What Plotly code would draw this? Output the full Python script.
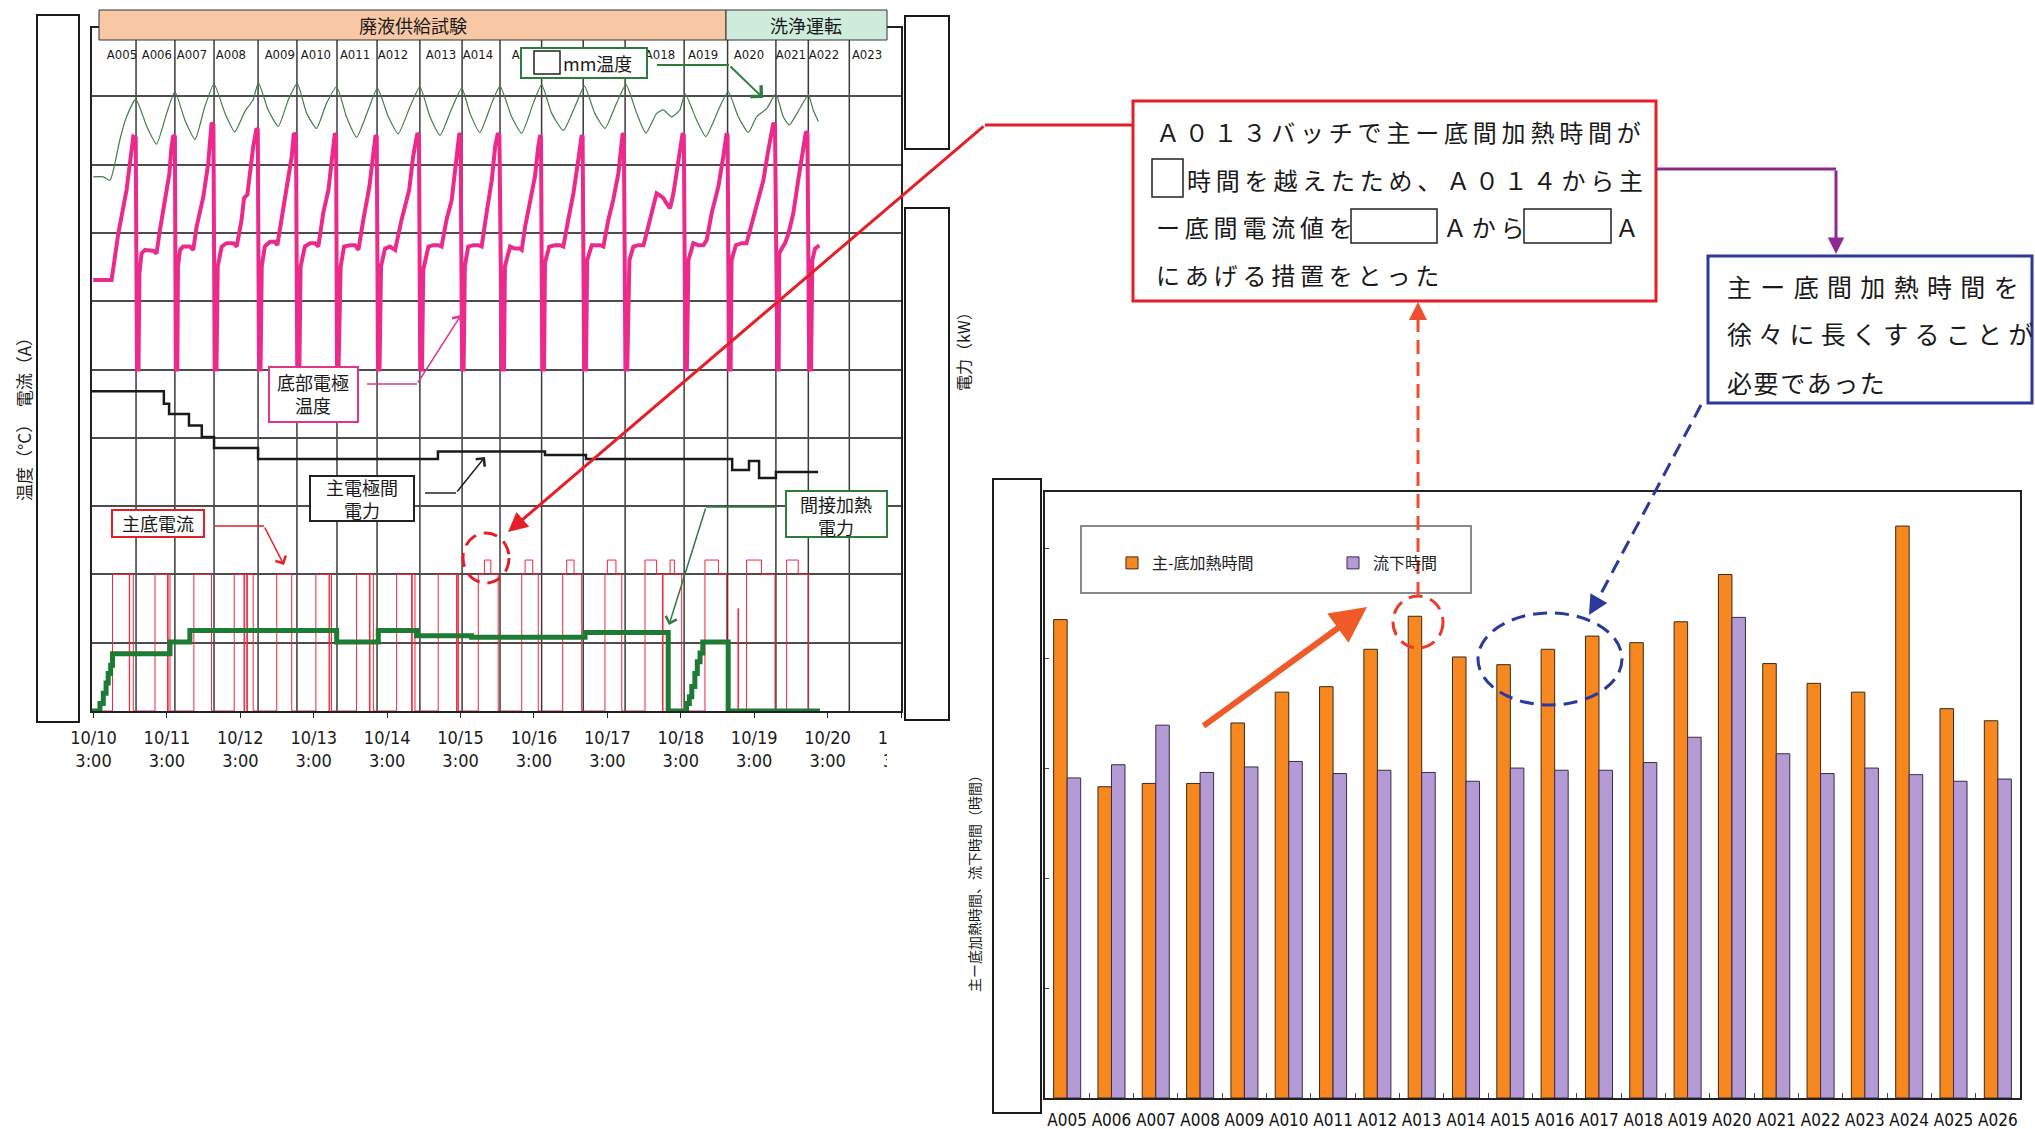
import plotly.graph_objects as go

W, H = 2035, 1129
JP = "Noto Sans CJK JP"
NARROW = "Liberation Sans Narrow, DejaVu Sans Condensed, Arial Narrow, sans-serif"

# ---------------- time axis: hours counted from 10/10 0:00 ----------------
day_tick_hours = [3, 27, 51, 75, 99, 123, 147, 171, 195, 219, 243, 267]
day_tick_labels = [
    "10/10<br>3:00", "10/11<br>3:00", "10/12<br>3:00", "10/13<br>3:00",
    "10/14<br>3:00", "10/15<br>3:00", "10/16<br>3:00", "10/17<br>3:00",
    "10/18<br>3:00", "10/19<br>3:00", "10/20<br>3:00", "10/21<br>3:00",
]

# batch change-over times and the batch names printed above the curves
batch_edges_h = [16.9, 29.6, 42.4, 56.8, 69.5, 82.6, 95.7, 109.7, 123.5, 135.9,
                 149.5, 163.1, 176.8, 196.1, 210.3, 226.1, 236.7, 250.1]
batch_names = ["A005", "A006", "A007", "A008", "A009", "A010", "A011", "A012",
               "A013", "A014", "A015", "A018", "A019", "A020",
               "A021", "A022", "A023"]
batch_name_h = [12.3, 23.7, 35.2, 47.9, 63.9, 75.7, 88.5, 100.9, 116.6, 128.7,
                144.7, 188.2, 202.3, 217.3, 231.0, 241.8, 255.9]

# bottom electrode temperature (deg C)
bottom_temp_h = [
    2.9, 8.9, 11.1, 13.8, 14.9, 16.0, 16.8, 17.2,
    17.7, 18.0, 18.7, 19.8, 22.5, 23.6, 24.7, 26.4, 27.8, 28.5, 29.1, 29.6, 29.9,
    30.4, 30.6, 31.3, 32.3, 34.5, 35.6, 36.7, 38.9, 40.5, 41.6, 42.2, 42.6,
    43.2, 43.6, 44.9, 46.5, 48.7, 49.8, 51.4, 52.2, 53.3, 55.2, 56.3, 56.7, 57.1,
    57.6, 58.0, 59.0, 60.7, 62.3, 63.1, 64.5, 66.1, 67.8, 68.5, 69.2, 69.6,
    70.3, 70.7, 72.1, 73.8, 75.4, 76.5, 78.1, 79.8, 81.2, 81.9, 82.3, 82.6,
    83.1, 83.8, 84.9, 86.8, 88.5, 89.6, 91.2, 93.2, 94.5, 95.2, 95.6, 96.0,
    96.5, 97.0, 98.3, 99.9, 101.6, 103.7, 106.2, 107.5, 108.9, 109.4, 109.8,
    110.4, 110.8, 112.5, 114.1, 115.7, 116.8, 118.4, 120.1, 121.7, 122.6, 123.0, 123.5,
    124.0, 124.4, 125.5, 127.2, 128.8, 129.9, 131.5, 133.2, 134.3, 135.2, 135.7, 136.5,
    137.2, 137.5, 139.2, 140.8, 142.4, 143.0, 144.1, 145.7, 147.3, 148.4, 149.0, 149.3, 149.7,
    150.3, 150.6, 152.0, 153.9, 155.5, 156.6, 158.2, 159.9, 161.5, 162.6, 162.9, 163.4,
    164.0, 164.4, 165.9, 166.9, 168.6, 169.7, 171.3, 172.9, 174.6, 176.0, 176.4, 176.9,
    177.5, 178.2, 179.5, 181.1, 182.8, 183.8, 185.5, 187.1, 188.2, 189.3, 190.4, 191.5,
    192.6, 194.2, 195.6, 196.0, 196.5,
    197.0, 197.5, 199.1, 200.7, 202.4, 203.5, 205.1, 207.3, 208.9, 210.0, 210.3, 210.8,
    211.3, 211.6, 213.0, 214.9, 216.5, 217.6, 219.8, 222.0, 223.6, 225.3, 225.8, 226.1, 226.6,
    227.0, 227.2, 228.0, 229.1, 230.2, 231.8, 233.4, 235.1, 235.9, 236.4, 237.0,
    237.6, 238.0, 238.9, 240.3,
]
bottom_temp_c = [
    631, 631, 699, 763, 802, 841, 839, 500,
    500, 641, 670, 675, 674, 670, 704, 748, 787, 826, 843, 841, 500,
    500, 651, 675, 680, 680, 675, 709, 753, 802, 861, 858, 500,
    500, 651, 680, 685, 685, 680, 719, 751, 756, 826, 853, 851, 500,
    500, 651, 680, 687, 687, 682, 719, 763, 812, 846, 843, 500,
    500, 651, 680, 685, 685, 680, 729, 763, 812, 846, 843, 500,
    500, 651, 680, 682, 682, 675, 719, 768, 817, 843, 841, 500,
    500, 651, 677, 680, 675, 719, 763, 812, 846, 843, 500,
    500, 646, 680, 682, 682, 680, 719, 748, 812, 846, 843, 500,
    500, 651, 680, 682, 682, 680, 729, 777, 826, 846, 843, 500,
    500, 651, 680, 677, 677, 675, 709, 748, 782, 826, 843, 841, 500,
    500, 656, 680, 682, 682, 680, 719, 758, 807, 843, 841, 500,
    500, 660, 682, 682, 682, 680, 719, 748, 787, 846, 843, 500,
    500, 660, 680, 682, 682, 699, 729, 758, 755, 751, 743, 736,
    758, 802, 846, 843, 500,
    500, 660, 685, 682, 682, 690, 729, 768, 812, 846, 843, 500,
    500, 660, 682, 685, 685, 704, 743, 777, 821, 861, 858, 670, 500,
    500, 670, 677, 685, 699, 729, 777, 826, 848, 846, 500,
    500, 660, 677, 682,
]

# "mm" position temperature (deg C)
mm_temp_h = [2.9, 6.2, 8.4, 10.0, 11.6, 13.8, 16.8, 20.4, 23.6, 26.9, 29.6, 32.9,
             36.2, 39.4, 42.4, 46.0, 49.2, 52.5, 55.2, 56.9, 60.1, 63.4, 66.7, 69.6,
             72.7, 75.9, 79.2, 82.5, 85.7, 89.0, 92.8, 95.8, 99.4, 102.6, 106.5, 109.7,
             113.0, 116.3, 120.1, 123.4, 126.1, 129.3, 133.2, 135.9, 139.7, 143.0, 146.8,
             149.5, 152.8, 156.6, 160.4, 163.5, 166.9, 170.2, 174.0, 177.1, 180.6, 183.6,
             187.1, 189.3, 192.0, 194.7, 196.4, 200.2, 203.2, 207.8, 210.5, 213.8, 217.1,
             219.8, 223.1, 226.1, 228.5, 230.5, 233.4, 236.7, 238.3, 240.0]
mm_temp_c = [782, 782, 777, 802, 836, 870, 896, 856, 830, 875, 907, 865,
             837, 885, 918, 875, 848, 878, 895, 920, 880, 856, 895, 919,
             875, 853, 890, 914, 870, 840, 880, 912, 870, 845, 885, 914,
             870, 843, 882, 912, 875, 847, 890, 915, 870, 846, 890,
             917, 875, 850, 885, 915, 875, 853, 890, 917, 875, 846,
             875, 880, 870, 880, 904, 865, 841, 885, 907, 870, 847,
             870, 882, 904, 870, 858, 878, 902, 880, 863]

# main electrode power (kW), step changes
main_power_h = [2.5, 26.0, 27.7, 34.2, 38.4, 42.4, 56.8, 115.6, 150.6, 164.0,
                211.8, 217.3, 220.6, 226.1, 239.9]
main_power_kw = [46.8, 45.0, 43.5, 41.8, 40.1, 38.5, 36.9, 38.0, 37.5, 36.9,
                 35.3, 36.6, 34.1, 35.0, 35.0]

# indirect heating power (kW), step changes
indirect_power_h = [2.5, 5.1, 6.2, 7.1, 7.8, 8.6, 9.2, 28.0, 34.5, 82.5, 96.1, 108.6,
                    126.6, 163.7, 190.9, 196.9, 197.8, 198.6, 199.6, 200.4, 201.3, 202.2,
                    210.5, 240.5]
indirect_power_kw = [0, 1.1, 2.6, 4.1, 5.5, 6.7, 8.4, 10.1, 11.8, 10.1, 11.8, 11.0,
                     10.8, 11.5, 0, 1.1, 2.1, 3.6, 5.5, 7.2, 8.5, 10.1,
                     0, 0]

# main-bottom electrode current (A), step changes
bottom_current_h = [2.5, 9.2, 14.7, 14.8, 16.0, 23.1, 27.2, 27.4, 28.0, 35.8, 41.6,
                    49.0, 52.2, 52.4, 53.1, 53.3, 55.2, 62.9, 67.8, 75.7, 80.0, 80.2,
                    80.8, 89.0, 93.2, 93.4, 94.5, 102.1, 107.0, 107.2, 108.1, 115.7,
                    121.7, 121.9, 122.3, 128.8, 130.8, 132.9, 135.3, 143.0, 144.1, 146.6,
                    148.4, 156.4, 157.7, 160.1, 162.6, 170.2, 171.0, 173.8, 175.7, 183.3,
                    187.1, 189.0, 189.2, 191.5, 192.9, 195.3, 202.9, 207.3, 210.0, 213.7,
                    213.9, 216.5, 221.4, 225.8, 229.6, 233.4, 236.7, 240.5]
bottom_current_a = [0, 200, 0, 200, 0, 200, 0, 200, 0, 200, 0,
                    200, 0, 200, 0, 200, 0, 200, 0, 200, 0, 200,
                    0, 200, 0, 200, 0, 200, 0, 200, 0, 200,
                    0, 200, 0, 200, 221, 200, 0, 200, 221, 200,
                    0, 200, 221, 200, 0, 200, 221, 200, 0, 221,
                    200, 0, 200, 221, 200, 0, 221, 200, 0, 150,
                    0, 221, 200, 0, 221, 200, 0, 0]

# ---------------- per-batch times ----------------
bar_batches = ["A005", "A006", "A007", "A008", "A009", "A010", "A011", "A012",
               "A013", "A014", "A015", "A016", "A017", "A018", "A019", "A020",
               "A021", "A022", "A023", "A024", "A025", "A026"]
heating_hours = [8.70, 5.66, 5.72, 5.72, 6.82, 7.38, 7.48, 8.16, 8.76, 8.02, 7.88,
                 8.16, 8.40, 8.28, 8.66, 9.52, 7.90, 7.54, 7.38, 10.40, 7.08, 6.86]
draining_hours = [5.82, 6.06, 6.78, 5.92, 6.02, 6.12, 5.90, 5.96, 5.92, 5.76, 6.00,
                  5.96, 5.96, 6.10, 6.56, 8.74, 6.26, 5.90, 6.00, 5.88, 5.76, 5.80]


# ---------------- helpers for page-level decorations (pixel positions) ----------------
def X(px):
    return px / W


def Y(py):
    return 1 - py / H


shapes = []
annotations = []


def box(x0, y0, x1, y1, color="#1a1a1a", width=2, fill="white", dash="solid"):
    shapes.append(dict(type="rect", xref="paper", yref="paper",
                       x0=X(x0), x1=X(x1), y0=Y(y1), y1=Y(y0),
                       line=dict(color=color, width=width, dash=dash),
                       fillcolor=fill, layer="above"))


def polyline(pts, color, width, dash="solid"):
    d = "M " + " L ".join(f"{X(a):.5f},{Y(b):.5f}" for a, b in pts)
    shapes.append(dict(type="path", xref="paper", yref="paper", path=d,
                       line=dict(color=color, width=width, dash=dash), layer="above"))


def oval(cx, cy, rx, ry, color, width, dash="14px,8px"):
    shapes.append(dict(type="circle", xref="paper", yref="paper",
                       x0=X(cx - rx), x1=X(cx + rx), y0=Y(cy + ry), y1=Y(cy - ry),
                       line=dict(color=color, width=width, dash=dash), layer="above"))


def arrow(tail, tip, color, width, head=2, size=1.0):
    annotations.append(dict(x=X(tip[0]), y=Y(tip[1]), xref="paper", yref="paper",
                            ax=tail[0] - tip[0], ay=tail[1] - tip[1],
                            axref="pixel", ayref="pixel", text="", showarrow=True,
                            arrowhead=head, arrowsize=size, arrowwidth=width,
                            arrowcolor=color))


def text(x, y, s, size, color="#1a1a1a", anchor="center", angle=0, family=JP):
    annotations.append(dict(x=X(x), y=Y(y), xref="paper", yref="paper", text=s,
                            showarrow=False, xanchor=anchor, yanchor="middle",
                            textangle=angle,
                            font=dict(family=family, size=size, color=color)))


def spaced(s, gap):
    return gap.join(s)


THIN, FOUR, THREE, HAIR = "\u2009", "\u2005", "\u2004", "\u200a"
RED, GREEN, PINK, BLUE, PURPLE = "#E61E28", "#2E7D3A", "#E0358A", "#2B3A9A", "#8E2A8E"

# batch change-over lines on the time chart
for h in batch_edges_h:
    shapes.append(dict(type="line", xref="x", yref="paper", x0=h, x1=h,
                       y0=Y(711), y1=Y(40), line=dict(color="#3a3a3a", width=1.5),
                       layer="below"))

# process phase bands
box(99, 10, 726, 40, color="#333", width=1, fill="#F8C7A4")
box(726, 10, 887, 40, color="#333", width=1, fill="#CFEBDC")
text(413, 25, "廃液供給試験", 18)
text(806, 25, "洗浄運転", 18)

# axis blank-outs
box(37, 15, 79, 722)
box(905, 16, 949, 149)
box(905, 208, 949, 720)
box(887, 723, 962, 780, color="white", width=0)
box(993, 479, 1041, 1113)

# axis titles
text(23, 415, "温度（°C）　電流（A）", 17, angle=-90)
text(963, 348, "電力（kW）", 16, angle=-90)
text(974, 880, "主ー底加熱時間、流下時間（時間）", 14, angle=-90)

# mm temperature callout
box(521, 48, 647, 78, color=GREEN, width=2)
box(534, 51, 560, 74, color="#222", width=1.5)
text(561, 63, "mm温度", 18, anchor="left")
polyline([(657, 65), (729, 65)], GREEN, 2)
arrow((729, 65), (763, 98), GREEN, 2, head=4, size=1.5)

# bottom electrode temperature callout
box(269, 367, 358, 422, color=PINK, width=2)
text(313, 393, "底部電極<br>温度", 18)
polyline([(367, 384), (417, 384)], PINK, 1.5)
arrow((417, 384), (461, 315), PINK, 1.5, head=4, size=1.5)

# main electrode power callout
box(310, 476, 414, 521, color="#222", width=2)
text(362, 499, "主電極間<br>電力", 18)
polyline([(425, 493), (456, 493)], "#222", 1.5)
arrow((456, 493), (485, 457), "#222", 1.5, head=4, size=1.5)

# main-bottom current callout
box(112, 510, 204, 537, color=RED, width=2)
text(158, 523, "主底電流", 18)
polyline([(215, 526), (264, 526)], RED, 1.5)
arrow((264, 526), (284, 565), RED, 1.5, head=4, size=1.5)

# indirect heating power callout
box(786, 491, 887, 537, color=GREEN, width=2)
text(836, 515, "間接加熱<br>電力", 18)
polyline([(775, 507), (706, 507)], GREEN, 1.5)
arrow((706, 507), (669, 625), GREEN, 1.5, head=4, size=1.5)

# note on the current change
box(1133, 101, 1656, 301, color=RED, width=3)
box(1152, 159, 1183, 197, color="#222", width=1.5)
box(1351, 209, 1437, 243, color="#222", width=1.5)
box(1524, 209, 1611, 243, color="#222", width=1.5)
text(1154, 132, spaced("Ａ０１３バッチで主ー底間加熱時間が", THIN), 24, anchor="left")
text(1185, 180, spaced("時間を越えたため、Ａ０１４から主", THIN), 24, anchor="left")
text(1154, 227, spaced("ー底間電流値を", THIN), 24, anchor="left")
text(1441, 227, spaced("Ａから", THIN), 24, anchor="left")
text(1613, 227, "Ａ", 24, anchor="left")
text(1154, 275, spaced("にあげる措置をとった", THIN), 24, anchor="left")

polyline([(1133, 125), (985, 125)], RED, 3)
arrow((985, 125), (508, 532), RED, 3, head=2, size=1.3)
oval(486, 558, 23, 25, RED, 3)

# conclusion note
polyline([(1656, 169), (1836, 169)], PURPLE, 3)
arrow((1836, 169), (1836, 254), PURPLE, 3, head=2, size=1.1)
box(1708, 256, 2032, 403, color=BLUE, width=3)
text(1725, 286, spaced("主ー底間加熱時間を", THREE), 25, anchor="left")
text(1725, 333, spaced("徐々に長くすることが", FOUR), 25, anchor="left")
text(1725, 382, spaced("必要であった", HAIR), 25, anchor="left")

# legend frame of the bar chart
box(1081, 526, 1471, 593, color="#8a8a8a", width=2)

# pointers on the bar chart
oval(1418, 622, 25, 26, "#EA3A2A", 3)
polyline([(1418, 596), (1418, 318)], "#F04E30", 3, dash="14px,8px")
arrow((1418, 318), (1418, 302), "#F04E30", 3, head=2, size=1.2)
arrow((1202, 727), (1367, 607), "#F05A28", 6, head=2, size=1.2)
oval(1550, 659, 72, 46, BLUE, 3)
polyline([(1701, 405), (1596, 603)], BLUE, 3, dash="14px,8px")
arrow((1596, 603), (1589, 615), BLUE, 3, head=2, size=1.3)

# ---------------- traces ----------------
fig = go.Figure()

fig.add_trace(go.Scatter(x=bottom_current_h, y=bottom_current_a, mode="lines",
                         line=dict(color="#F0283C", width=1, shape="hv"),
                         xaxis="x", yaxis="y", showlegend=False, hoverinfo="skip"))
fig.add_trace(go.Scatter(x=mm_temp_h, y=mm_temp_c, mode="lines",
                         line=dict(color="#3F7F45", width=1.2, shape="spline", smoothing=0.5),
                         xaxis="x", yaxis="y", showlegend=False, hoverinfo="skip"))
fig.add_trace(go.Scatter(x=bottom_temp_h, y=bottom_temp_c, mode="lines",
                         line=dict(color="#EC2A8C", width=4),
                         xaxis="x", yaxis="y", showlegend=False, hoverinfo="skip"))
fig.add_trace(go.Scatter(x=batch_name_h, y=[959] * len(batch_names), mode="text",
                         text=batch_names,
                         textfont=dict(family=NARROW, size=13, color="#1a1a1a"),
                         xaxis="x", yaxis="y", showlegend=False, hoverinfo="skip",
                         cliponaxis=False))
fig.add_trace(go.Scatter(x=indirect_power_h, y=indirect_power_kw, mode="lines",
                         line=dict(color="#1E7B34", width=5, shape="hv"),
                         xaxis="x", yaxis="y2", showlegend=False, hoverinfo="skip"))
fig.add_trace(go.Scatter(x=main_power_h, y=main_power_kw, mode="lines",
                         line=dict(color="#1a1a1a", width=2.5, shape="hv"),
                         xaxis="x", yaxis="y2", showlegend=False, hoverinfo="skip"))

fig.add_trace(go.Bar(x=bar_batches, y=heating_hours, name="主-底加熱時間",
                     marker=dict(color="#F7871F", line=dict(color="#3a2a1a", width=1)),
                     xaxis="x3", yaxis="y3"))
fig.add_trace(go.Bar(x=bar_batches, y=draining_hours, name="流下時間",
                     marker=dict(color="#B49BD6", line=dict(color="#3a2a4a", width=1)),
                     xaxis="x3", yaxis="y3"))

fig.update_layout(
    template="none",
    width=W, height=H, margin=dict(l=0, r=0, t=0, b=0, pad=0), autosize=False,
    paper_bgcolor="white", plot_bgcolor="white",
    barmode="group", bargap=0.39, bargroupgap=0,
    showlegend=True,
    legend=dict(x=X(1112), y=Y(546), xanchor="left", yanchor="top",
                orientation="h", bgcolor="rgba(0,0,0,0)", borderwidth=0,
                entrywidth=176, entrywidthmode="pixels",
                font=dict(family=JP, size=16, color="#222")),
    xaxis=dict(domain=[X(92), X(901)], range=[2.5, 267], anchor="y", automargin=False,
               tickmode="array", tickvals=day_tick_hours, ticktext=day_tick_labels,
               ticks="outside", ticklen=5, tickcolor="#222", tickangle=0,
               showline=True, linecolor="#222", linewidth=2, mirror=True,
               showgrid=False, zeroline=False, ticklabelstandoff=4,
               tickfont=dict(family=NARROW, size=18, color="#1a1a1a")),
    yaxis=dict(domain=[Y(711), Y(28)], range=[0, 1000], dtick=100, anchor="x",
               automargin=False,
               showgrid=True, gridcolor="#4d4d4d", gridwidth=1.5,
               showticklabels=False, ticks="", zeroline=False,
               showline=True, linecolor="#222", linewidth=2, mirror=True),
    yaxis2=dict(overlaying="y", side="right", anchor="x", range=[0, 100],
                automargin=False,
                showgrid=False, showticklabels=False, zeroline=False, ticks=""),
    xaxis3=dict(domain=[X(1045), X(2020)], anchor="y3", type="category",
                automargin=False,
                range=[-0.5, 21.5], showgrid=False, tickangle=0,
                showline=True, linecolor="#222", linewidth=1.5, mirror=True,
                ticks="inside", tickson="boundaries", ticklen=5, tickcolor="#444",
                ticklabelstandoff=6,
                tickfont=dict(family=NARROW, size=17, color="#111")),
    yaxis3=dict(domain=[Y(1098), Y(492)], anchor="x3", range=[0, 11.02], dtick=2,
                automargin=False,
                showgrid=False, showticklabels=False, zeroline=False,
                ticks="inside", ticklen=4, tickcolor="#444",
                showline=True, linecolor="#222", linewidth=1.5, mirror=True),
    shapes=shapes,
    annotations=annotations,
)

fig.write_html("out.html")
